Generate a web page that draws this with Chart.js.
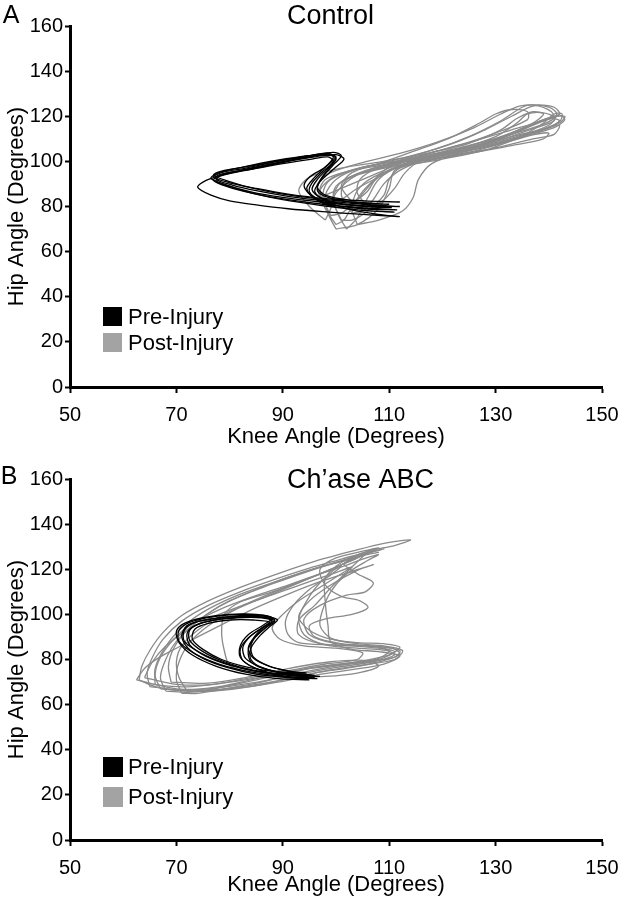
<!DOCTYPE html>
<html><head><meta charset="utf-8">
<script src="https://cdn.jsdelivr.net/npm/chart.js@4.4.1/dist/chart.umd.min.js"></script>
<style>html,body{margin:0;padding:0;background:#fff;}canvas{display:block;}</style>
</head><body>
<canvas id="c1" width="618" height="450"></canvas>
<canvas id="c2" width="618" height="450"></canvas>
<script>
const xTicks = [50, 70, 90, 110, 130, 150];
const yTicks = [0, 20, 40, 60, 80, 100, 120, 140, 160];
const seriesNames = ['Pre-Injury', 'Post-Injury'];
const panelTitles = ['Control', 'Ch\u2019ase ABC'];
const panelLetters = ['A', 'B'];
const xTitle = 'Knee Angle (Degrees)';
const yTitle = 'Hip Angle (Degrees)';

// Control, pre-injury loops [knee, hip]
const controlPre = [
 [[112,82],[105,82.5],[98,83.5],[91,85.5],[85,88],[80,90.5],[77,93],[78.5,95],[83,97],[89,100],[95,102.5],[99.5,104],[101,102.5],[99.5,98.5],[97.5,93],[96.5,88.5],[98,85],[102,83],[107,82.3],[112,82]],
 [[110.5,79.5],[104,80.5],[97,82],[90,84],[84,86.5],[79.5,89.5],[76.5,92.5],[78,95],[82.5,97.5],[89,100.5],[95,102.5],[99,103],[100,101],[98.5,97],[96.5,92],[95.5,87.5],[97,84],[100.5,81.5],[105.5,80],[110.5,79.5]],
 [[112,80],[105,81],[98,82.5],[91,84.5],[85,87],[80.5,89.5],[77.5,92],[79,94.5],[84,96.5],[90,99],[95.5,101],[98.5,102],[99.5,100],[97.5,95.5],[95.5,90.5],[95,86.5],[97,83],[101,81],[106,80.2],[112,80]],
 [[112,75.5],[105,76.5],[97.5,77.7],[91,79],[85,80.7],[80,82.5],[76.5,85],[74,88.5],[75.5,91.5],[79,94],[84,96.5],[90,99.5],[96,102],[100,103],[101.5,101],[99.5,96.5],[97,91],[96,86.5],[98.5,82],[103,78.5],[108,76.5],[112,75.5]],
 [[111,77.5],[104,78.5],[97,80.5],[90,83],[84,86],[80,88.5],[77,91.5],[78,94],[82,96],[88,99],[94,101.5],[98,103],[100,102],[98,97.5],[96,93],[94.5,88],[96,83.5],[99.5,80],[105,78.3],[111,77.5]],
 [[110,81],[103,82],[96.5,83.5],[90,85.5],[84.5,88],[80,91],[77,94],[79,96],[84,98],[90,100.5],[95,102.5],[98.5,103.5],[100,101.5],[98.5,96.5],[97,91.5],[96.5,87],[98.5,84],[102.5,82],[106,81.3],[110,81]],
 [[111.5,78.5],[104.5,79.5],[97.5,81],[91,83],[85,85.5],[80.5,88.5],[77.5,91],[78,93.5],[81.5,95.5],[87.5,98.5],[93.5,101.5],[97.5,103],[99.5,102],[98,97.5],[95,93],[94,89],[95.5,84.5],[99,81],[105,79],[111.5,78.5]]
];

// Control, post-injury loops
const controlPost = [
 [[100,72],[98,79],[97,87],[99.5,93],[105,97.5],[113,100.5],[121,104],[129,109],[135,114.5],[139.5,119],[143,120],[142,117],[137.5,113],[130,107.5],[122,103],[115,99.5],[109,95],[105.5,88],[103,80],[101.5,74],[100,72]],
 [[102,70],[100.5,76],[99.5,84],[101,91],[106,96],[114,102],[122,108],[128,114],[133,120],[137,124.5],[140,124],[141.5,121],[140,116],[134,111],[127,106.5],[119,102.5],[112,98],[108,92],[106,84],[104,75],[102,70]],
 [[99,76],[97.5,84],[98.5,91],[103,96],[110,100],[118,105],[125,111],[131,118],[135,124],[137,125],[140.5,122],[141,118],[137,114.5],[131,109.5],[124,105],[117,101.5],[111,97.5],[107,91],[104,83],[101,77],[99,76]],
 [[104,72],[103,79],[104,87],[107,93],[112,97.5],[120,101],[128,105],[134,110],[139,114],[142,116],[141,112],[137,110],[130,106],[123,103],[118,99],[115.5,92],[114.5,84],[112.5,78],[108,74],[104,72]],
 [[99,80],[97,87],[98,92],[102,95.5],[109,98.5],[117,102],[125,106],[132,111],[137,116],[140.5,119],[142,118],[140,115],[134,111.5],[127,107],[120,103.5],[113,99],[108,93],[104,88],[101,83],[99,80]],
 [[101,74],[99.5,82],[100,89],[104,94],[111,98],[119,101.5],[126,104.5],[132,108.5],[137.5,112],[140,112.5],[139,110],[133,107],[126,104],[119,101],[112,97],[110,92],[109,85],[106,78],[103,74],[101,74]],
 [[103,77],[101,85],[102,92],[107,97],[115,101],[123,105.5],[130,111],[134,117],[136,121],[139,121.5],[141,119.5],[139,116.5],[133,112],[126,107.5],[118,102],[112,96],[109,90],[107,83],[105,78],[103,77]],
 [[100,70],[98.5,77],[98,85],[100,92],[104.5,97],[111,100],[119,103.5],[127,107.5],[133,112],[138,117.5],[142,120.5],[143,118.5],[141,115],[135,111],[128,106.5],[121,103],[115,100],[111,96],[110,88],[108,79],[104,72],[100,70]],
 [[106,80],[104,86],[104.5,92],[108,97],[116,101],[124,104.5],[131,108],[135.5,112],[139,117],[141,121],[142.5,121],[142,117.5],[138,113.5],[131,108.5],[123,104],[116,100.5],[113,95],[111,88],[108.5,82],[106,80]],
 [[98,74],[95,80],[93,87],[95,93],[101,97],[109,100],[117,103.5],[125,108],[131,114],[134,119],[137,122],[139,121],[137,117],[131,111],[124,106.5],[116,102],[110,98],[104,94],[100,86],[99,79],[98,74]],
 [[97,84],[96.5,90],[99,95],[105,99.5],[112,103.5],[119,108.5],[126,115],[131,121],[134.5,124.5],[138,125],[141,124],[142,121],[139,118],[133,114],[126,109],[119,104.5],[113,100],[108,95],[103,90],[99,86],[97,84]],
 [[103,82],[101,89],[103,95],[108,99],[114,104],[121,110],[127,117],[130,121],[133,123],[136,122],[136,118.5],[131,113.5],[125,108.5],[118,104],[112,100],[108,94],[106,87],[104,83],[103,82]]
];

// Ch'ase ABC, pre-injury loops
const chasePre = [
 [[96,72],[90,72.5],[84,74.5],[78,78],[73.5,82.5],[70.5,88],[70.5,93],[72.5,96.5],[77,99],[82,100],[86.5,99.5],[88.5,97.5],[86.5,94.5],[84,90.5],[82.5,85.5],[83,80.5],[86,76.5],[90.5,73.5],[96,72]],
 [[95,73],[89.5,73.5],[84,75.5],[79,79],[75,83.5],[72.5,88.5],[72.5,93],[74.5,96],[78.5,98],[83,99],[87,98.5],[88.5,97],[87,94.5],[85,90.5],[84,86],[84.5,81],[87.5,77],[91.5,74.5],[95,73]],
 [[96.5,71.5],[91,72],[85,73.5],[79.5,76.5],[75,80.5],[72,85.5],[71,90.5],[72,95],[75.5,97.5],[80.5,99],[85.5,99],[88,97.5],[86,94],[83.5,89.5],[82,84.5],[82.5,79.5],[85.5,75.5],[90.5,72.5],[96.5,71.5]],
 [[94.5,74],[89,74.5],[83.5,76.5],[78.5,80],[75,84.5],[73,89],[73.5,93.5],[76,96],[80,97.5],[84.5,97.5],[87.5,96.5],[86,93.5],[84.5,89.5],[83.5,85],[84.5,80.5],[87.5,77],[91,75],[94.5,74]],
 [[96,73],[90.5,73.5],[84.5,75],[79,78.5],[74.5,83],[71.5,88],[71.5,93],[73.5,96.5],[78,98.5],[83,99.5],[87,99],[89,97.5],[87.5,94.5],[85.5,90],[84,85],[84,80],[86.5,76],[91,74],[96,73]],
 [[95,71],[89,71.5],[83,73.5],[77.5,77],[73,82],[70.5,87.5],[70,92.5],[71.5,96],[75,98.5],[80,100],[85,100],[88,98.5],[86.5,95.5],[83.5,91],[82,86],[82,81],[84.5,76.5],[89,73],[95,71]],
 [[97,72.5],[91,73],[85.5,74.5],[80,77.5],[75.5,81.5],[72.5,86.5],[72,91.5],[73.5,95],[77,97.5],[81.5,98.5],[86,98.5],[88,97],[86.5,93.5],[84.5,89],[83.5,84],[84,79],[87,75.5],[92,73.5],[97,72.5]]
];

// Ch'ase ABC, post-injury loops
const chasePost = [
 [[63,71],[63.5,77],[65,84],[67.5,92],[71,99.5],[76,106],[82,112],[89,118],[96,123.5],[103,128],[109,131.5],[114,133],[111,130.5],[106,128],[101,123],[98,116],[98,105],[98.5,95],[99,88],[103,84.5],[108,83.5],[112,81.5],[109,78],[103,75.5],[96,73],[88,69.5],[80,67],[72,66],[66,68],[63,71]],
 [[66,69],[66,76],[67.5,84],[70.5,93],[75,101],[81,108],[88,114],[95,119.5],[102,124.5],[107,128],[109,129],[106,127],[101,122],[97,114],[94.5,106],[93,98],[94,91],[98,86.5],[104,85],[109.5,84],[111,82],[107,79],[100,76.5],[92,73],[84,69.5],[76,67],[70,67],[66,69]],
 [[68,66],[67,72],[68,80],[70,88],[73.5,96],[78,103.5],[84,110],[91,116],[98,121.5],[104,125.5],[108,127.5],[105,126],[101.5,122.5],[104,118],[107,114],[105.5,110],[102,108.5],[97,104],[94,98],[95,91],[100,87],[106,86],[110,84],[108,80.5],[102,78],[95,76],[88,72.5],[80,68.5],[73,65.5],[68,66]],
 [[71,65],[70,71],[70.5,79],[72.5,87.5],[76,95],[81,102],[87,108],[93,114],[99,120],[104,125],[107.5,129],[106,127.5],[103,121],[99.5,113],[96,104],[93,97.5],[93,91],[97,87],[103,86],[108,85],[111,83.5],[108,80],[101,77.5],[93,74],[86,70],[79,67],[74,65],[71,65]],
 [[64,72],[65.5,79],[68,86],[72,93],[77,99],[83,104.5],[89,109.5],[95,114.5],[100,118.5],[103,121],[101,118],[97,112],[93,106],[90,100],[88,94],[89.5,89],[94,86],[100,85],[105,83],[104,80],[98,78],[91,75],[84,72],[77,69],[70,69],[64,72]],
 [[69,70],[68.5,77],[69.5,85],[72,93],[76,100.5],[80,106],[85,111],[91,116.5],[97,121],[102,124],[104,125],[101,122],[95,116],[88,110],[82,105.5],[79,100],[78.5,92],[79,84],[80,77.5],[84,74],[91,72],[98,72.5],[104,74],[108,77],[106,79.5],[99,79],[91,76],[83,72],[76,69.5],[69,70]],
 [[65,68],[64.5,74],[65.5,81],[67.5,89],[71,97],[76,104],[82,110],[88.5,115.5],[95,120.5],[101,124.5],[105.5,127.5],[108,129.5],[105,128],[100,125],[97,120],[98,113],[101,108],[104.5,106],[106,103],[103,100],[98,98],[95,95],[96,90],[101,87],[107,86],[112,84],[111,81],[106,79],[99,77.5],[92,75],[85,71.5],[78,68],[71,66.5],[65,68]],
 [[72,66],[70.5,72],[70,79],[71,86],[74,93],[78.5,99.5],[84,105.5],[90,111.5],[96,117],[101,121],[105,124.5],[108,126.5],[106,124],[102,118],[99,110],[97.5,102],[97,95],[99,89.5],[104,87],[109,86],[112.5,84],[111,80],[105,77.5],[98,75],[91,71.5],[84,68],[77,66],[72,66]],
 [[67,67],[66,73],[67,81],[69.5,89],[73,96],[78,102],[84,107.5],[91,113],[97,118],[101,121.5],[99,117.5],[95,111],[92,104],[90.5,97],[91,91],[93,87.5],[99,86.5],[105,86],[110.5,85],[112,82.5],[109,79.5],[103,76.5],[96,74],[89,70.5],[81,67.5],[73,66],[67,67]],
 [[62.5,71],[64,76],[66.5,80.5],[70,85],[74,90],[79,96],[85,103],[91,109],[97,114.5],[103,119],[107,122],[104,119.5],[99,113],[95,106],[93,99],[95,93],[99,89],[104,87.5],[109,87],[112,85.5],[110,82],[104,79],[96,76.5],[88,73],[80,70],[73,68],[67,68.5],[62.5,71]]
];

const FONT = '"Liberation Sans", Arial, Helvetica, sans-serif';
const BLACK = '#000000';
const GRAY = '#8a8a8a';
const GRAY_KEY = '#a3a3a3';

const decoPlugin = {
  id: 'deco',
  afterDraw(chart, args, o) {
    const ctx = chart.ctx, ca = chart.chartArea;
    ctx.save();
    ctx.fillStyle = '#000';
    ctx.textBaseline = 'middle';
    ctx.textAlign = 'left';
    ctx.font = '27px ' + FONT;
    ctx.fillText(o.title, o.titleX, o.titleY);
    ctx.textAlign = 'center';
    ctx.font = '25px ' + FONT;
    ctx.fillText(o.letter, o.letterX, o.letterY);
    const entries = [];
    chart.data.datasets.forEach(ds => {
      if (!entries.find(e => e.label === ds.label)) entries.push({label: ds.label, color: ds.keyColor});
    });
    ctx.textAlign = 'left';
    ctx.font = '22px ' + FONT;
    entries.forEach((e, i) => {
      const top = ca.bottom - o.legendBottom[i];
      ctx.fillStyle = e.color;
      ctx.fillRect(ca.left + 33, top, o.box, o.box);
      ctx.fillStyle = '#000';
      ctx.fillText(e.label, ca.left + 58, top + o.box / 2 + 1);
    });
    ctx.restore();
  }
};

function makeDatasets(pre, post) {
  const ds = [];
  pre.forEach(loop => ds.push({label: seriesNames[0], data: loop, keyColor: BLACK, borderColor: BLACK, borderWidth: 1.3}));
  post.forEach(loop => ds.push({label: seriesNames[1], data: loop, keyColor: GRAY_KEY, borderColor: GRAY, borderWidth: 1.3}));
  return ds.map(d => Object.assign(d, {showLine: true, pointRadius: 0, pointHoverRadius: 0, tension: 0.3, fill: false}));
}

function makeChart(id, pre, post, cfg) {
  return new Chart(document.getElementById(id), {
    type: 'scatter',
    data: {datasets: makeDatasets(pre, post)},
    plugins: [decoPlugin],
    options: {
      responsive: false,
      animation: false,
      events: [],
      layout: {padding: {top: cfg.padTop, right: 16, left: 0, bottom: 0}},
      plugins: {
        legend: {display: false},
        tooltip: {enabled: false},
        deco: cfg.deco
      },
      scales: {
        x: {
          type: 'linear', min: 50, max: 150,
          afterBuildTicks: s => { s.ticks = xTicks.map(v => ({value: v})); },
          afterFit: s => { s.height = cfg.xHeight; s.paddingLeft = 0; s.paddingRight = 0; },
          grid: {drawOnChartArea: false, drawTicks: true, tickLength: 6, tickWidth: 2, tickColor: '#000'},
          border: {display: true, color: '#000', width: 3},
          ticks: {color: '#000', font: {family: FONT, size: 20}, padding: 10, maxRotation: 0, autoSkip: false},
          title: {display: true, text: xTitle, color: '#000', font: {family: FONT, size: 22}, padding: {top: 0, bottom: cfg.xTitlePad}}
        },
        y: {
          type: 'linear', min: 0, max: 160,
          afterBuildTicks: s => { s.ticks = yTicks.map(v => ({value: v})); },
          afterFit: s => { s.width = 70; s.paddingTop = 0; s.paddingBottom = 0; },
          grid: {drawOnChartArea: false, drawTicks: true, tickLength: 5, tickWidth: 2, tickColor: '#000'},
          border: {display: true, color: '#000', width: 3},
          ticks: {color: '#000', font: {family: FONT, size: 20}, padding: 2, autoSkip: false},
          title: {display: true, text: yTitle, color: '#000', font: {family: FONT, size: 22}, padding: {top: 4, bottom: 0}}
        }
      }
    }
  });
}

makeChart('c1', controlPre, controlPost, {
  padTop: 26, xHeight: 63, xTitlePad: 0,
  deco: {title: panelTitles[0], titleX: 287, titleY: 17, letter: panelLetters[0], letterX: 11, letterY: 16, box: 19, legendBottom: [80, 54]}
});
makeChart('c2', chasePre, chasePost, {
  padTop: 29, xHeight: 60, xTitlePad: 2,
  deco: {title: panelTitles[1], titleX: 287, titleY: 31, letter: panelLetters[1], letterX: 9, letterY: 27, box: 20, legendBottom: [83, 53]}
});
</script>
</body></html>
